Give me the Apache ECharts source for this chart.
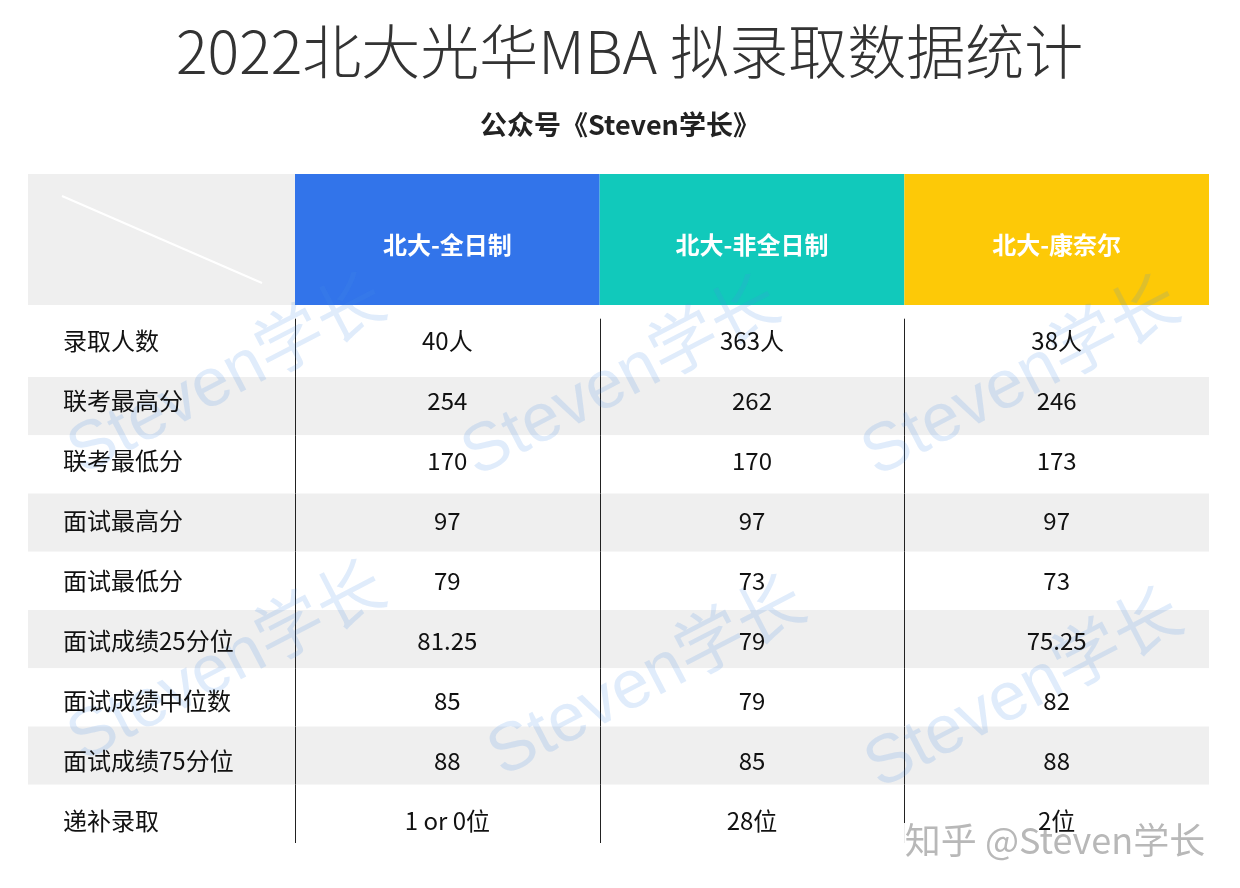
<!DOCTYPE html>
<html>
<head>
<meta charset="utf-8">
<script src="https://cdn.jsdelivr.net/npm/echarts@6/dist/echarts.min.js"></script>
<style>html,body{margin:0;padding:0;background:#fff;}#chart{width:1240px;height:888px;}</style>
</head>
<body>
<div id="chart"></div>
<script>
const titleText = '2022北大光华MBA 拟录取数据统计';
const subtitleText = '公众号《Steven学长》';
const columns = ['北大-全日制', '北大-非全日制', '北大-康奈尔'];
const columnColors = ['#3274ea', '#11c9bb', '#fdc907'];
const rows = ['录取人数', '联考最高分', '联考最低分', '面试最高分', '面试最低分', '面试成绩25分位', '面试成绩中位数', '面试成绩75分位', '递补录取'];
const fullTime = ['40人', '254', '170', '97', '79', '81.25', '85', '88', '1 or 0位'];
const partTime = ['363人', '262', '170', '97', '73', '79', '79', '85', '28位'];
const cornell = ['38人', '246', '173', '97', '73', '75.25', '82', '88', '2位'];
const watermark = 'Steven学长';
const footerMark = '知乎 @Steven学长';

const FONT = '"Noto Sans CJK SC", "Noto Sans", sans-serif';
const colValues = [fullTime, partTime, cornell];
const cells = [];
colValues.forEach((vals, c) => vals.forEach((v, r) => cells.push([c, r, v])));

const chart = echarts.init(document.getElementById('chart'), null, {renderer: 'canvas'});

const bodyTop = 318.7, bodyH = 524.3;
const textTop = 311, textH = 540;
const wmPos = [[228, 378], [622, 380], [1022, 380], [228, 665], [648, 680], [1025, 692]];

const option = {
  backgroundColor: '#ffffff',
  animation: false,
  title: [
    {text: titleText, left: 171, top: 17,
     textStyle: {fontSize: 59, fontWeight: 300, color: '#333', fontFamily: FONT}},
    {text: subtitleText, left: 'center', top: 106,
     textStyle: {fontSize: 27, fontWeight: 'bold', color: '#222', fontFamily: FONT}}
  ],
  grid: [
    {left: 28, top: bodyTop, width: 267, height: bodyH},
    {left: 295, top: bodyTop, width: 914, height: bodyH},
    {left: 28, top: 174, width: 267, height: 131},
    {left: 295, top: 174, width: 914, height: 131},
    {left: 28, top: textTop, width: 267, height: textH},
    {left: 295, top: textTop, width: 914, height: textH}
  ],
  xAxis: [
    {gridIndex: 0, type: 'category', data: [''], show: false},
    {gridIndex: 1, type: 'category', data: columns, show: false},
    {gridIndex: 2, type: 'category', data: [''], show: false},
    {gridIndex: 3, type: 'category', data: columns, show: false},
    {gridIndex: 4, type: 'category', data: [''], show: false},
    {gridIndex: 5, type: 'category', data: columns, show: false}
  ],
  yAxis: [
    {gridIndex: 0, type: 'category', data: rows, inverse: true,
     axisLine: {show: false}, axisTick: {show: false}, axisLabel: {show: false},
     splitLine: {show: false},
     splitArea: {show: true, areaStyle: {color: ['#ffffff', '#efefef']}}},
    {gridIndex: 1, type: 'category', data: rows, inverse: true,
     axisLine: {show: false}, axisTick: {show: false}, axisLabel: {show: false},
     splitLine: {show: false},
     splitArea: {show: true, areaStyle: {color: ['#ffffff', '#efefef']}}},
    {gridIndex: 2, type: 'value', min: 0, max: 1, show: false},
    {gridIndex: 3, type: 'value', min: 0, max: 1, show: false},
    {gridIndex: 4, type: 'category', data: rows, inverse: true, z: 6,
     axisLine: {show: false}, axisTick: {show: false},
     axisLabel: {inside: true, margin: 35, align: 'left', fontSize: 24, color: '#111', fontFamily: FONT, padding: [0, 0, 6, 0]},
     splitLine: {show: false}, splitArea: {show: false}},
    {gridIndex: 5, type: 'category', data: rows, inverse: true, show: false}
  ],
  series: [
    {
      type: 'bar', xAxisIndex: 2, yAxisIndex: 2, data: [1], barWidth: '100%', silent: true,
      itemStyle: {color: '#efefef'}
    },
    {
      type: 'bar', xAxisIndex: 3, yAxisIndex: 3, barWidth: '100%', barCategoryGap: 0, silent: true,
      data: columns.map((c, i) => ({value: 1, itemStyle: {color: columnColors[i]}})),
      label: {show: true, position: 'inside', formatter: p => p.name, color: '#fff',
              fontSize: 24, fontWeight: 'bold', fontFamily: FONT, offset: [0, 5]}
    },
    {
      type: 'custom', xAxisIndex: 1, yAxisIndex: 1, data: cells, z: 2, silent: true,
      renderItem: function (params, api) {
        const c = api.value(0), r = api.value(1);
        const pt = api.coord([c, r]);
        const sz = api.size([1, 1]);
        const x = Math.round(pt[0] - sz[0] / 2) + 0.5;
        return {type: 'line', shape: {x1: x, y1: pt[1] - sz[1] / 2, x2: x, y2: pt[1] + sz[1] / 2},
                style: {stroke: '#222', lineWidth: 1}};
      }
    },
    {
      type: 'custom', xAxisIndex: 5, yAxisIndex: 5, data: cells, z: 5, silent: true,
      renderItem: function (params, api) {
        const pt = api.coord([api.value(0), api.value(1)]);
        const txt = cells[params.dataIndex][2];
        return {type: 'text', x: pt[0], y: pt[1],
                style: {text: txt, textAlign: 'center', textVerticalAlign: 'middle',
                        fontSize: 24, fill: '#111', fontFamily: FONT}};
      }
    }
  ],
  graphic: [
    {type: 'line', shape: {x1: 62, y1: 196, x2: 262, y2: 283}, style: {stroke: '#ffffff', lineWidth: 2}, z: 10},
    ...wmPos.map(p => ({
      type: 'text', x: p[0], y: p[1], rotation: 0.48, z: 3, silent: true,
      style: {text: watermark, textAlign: 'center', textVerticalAlign: 'middle',
              fontSize: 68, fontFamily: '"Liberation Sans", Arial, "Noto Sans CJK SC", sans-serif',
              fill: 'rgba(70,140,230,0.17)'}
    })),
    {type: 'rect', shape: {x: 902, y: 823, width: 312, height: 36}, style: {fill: 'rgba(255,255,255,0.92)'}, z: 4, silent: true},
    {type: 'text', x: 1055, y: 840, z: 4, silent: true,
     style: {text: footerMark, textAlign: 'center', textVerticalAlign: 'middle', fontSize: 36,
             fontFamily: FONT, fill: '#b8b8b8', stroke: '#ffffff', lineWidth: 1}}
  ]
};
chart.setOption(option);
</script>
</body>
</html>
